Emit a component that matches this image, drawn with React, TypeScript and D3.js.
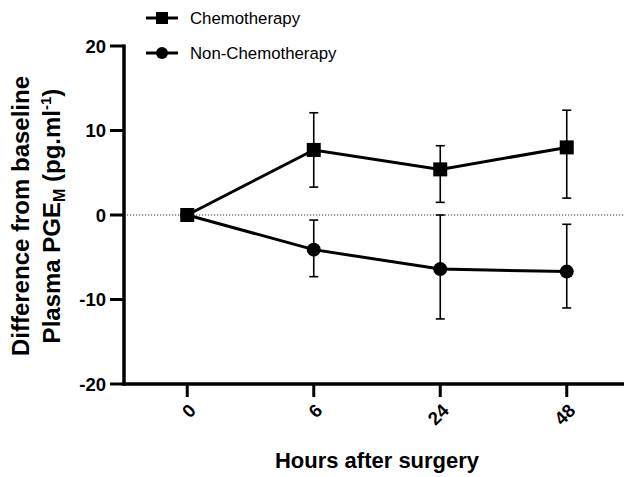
import React from 'react';
import * as d3 from 'd3';

const hours = ['0', '6', '24', '48'];
const chemoMean = [0, 7.7, 5.4, 8.0];
const chemoLow = [0, 3.3, 1.5, 2.0];
const chemoHigh = [0, 12.1, 8.2, 12.4];
const nonMean = [0, -4.1, -6.4, -6.7];
const nonLow = [0, -7.3, -12.3, -11.0];
const nonHigh = [0, -0.6, 0.0, -1.1];
const yTicks = [-20, -10, 0, 10, 20];

const W = 624, H = 477;
const font = 'Arial, "Liberation Sans", sans-serif';

export default function App() {
  const x = d3.scalePoint<string>().domain(hours).range([124, 630]).padding(0.5);
  const y = d3.scaleLinear().domain([-20, 20]).range([384, 46]);

  const line = d3.line<number>()
    .x((d, i) => x(hours[i]) as number)
    .y(d => y(d));

  const errorBars = (low: number[], high: number[], key: string) =>
    hours.map((h, i) => {
      if (low[i] === high[i]) return null;
      const cx = x(h) as number;
      return (
        <g key={key + h} stroke="#000" strokeWidth={1.6}>
          <line x1={cx} x2={cx} y1={y(low[i])} y2={y(high[i])} />
          <line x1={cx - 4.5} x2={cx + 4.5} y1={y(low[i])} y2={y(low[i])} />
          <line x1={cx - 4.5} x2={cx + 4.5} y1={y(high[i])} y2={y(high[i])} />
        </g>
      );
    });

  return (
    <svg width={W} height={H} style={{ position: 'absolute', left: 0, top: 0, background: '#fff' }}
         fontFamily={font}>
      {/* zero reference */}
      <line x1={124} x2={W} y1={y(0)} y2={y(0)} stroke="#333" strokeWidth={1} strokeDasharray="1.2,1.8" />

      {/* y axis */}
      <line x1={124} x2={124} y1={y(20) - 1.5} y2={y(-20) + 1.5} stroke="#000" strokeWidth={3.5} />
      {yTicks.map(t => (
        <g key={t}>
          <line x1={110} x2={124} y1={y(t)} y2={y(t)} stroke="#000" strokeWidth={3} />
          <text x={106} y={y(t)} dy="0.36em" textAnchor="end" fontSize={18.5} fontWeight="bold">{t}</text>
        </g>
      ))}

      {/* x axis */}
      <line x1={122.3} x2={W} y1={y(-20)} y2={y(-20)} stroke="#000" strokeWidth={3.5} />
      {hours.map(h => (
        <g key={h}>
          <line x1={x(h)} x2={x(h)} y1={y(-20)} y2={y(-20) + 13} stroke="#000" strokeWidth={3} />
          <text transform={`translate(${(x(h) as number) + 5},${y(-20) + 23}) rotate(-45)`}
                textAnchor="end" dy="0.36em" fontSize={18.5} fontWeight="bold">{h}</text>
        </g>
      ))}

      {/* error bars */}
      {errorBars(nonLow, nonHigh, 'n')}
      {errorBars(chemoLow, chemoHigh, 'c')}

      {/* lines */}
      <path d={line(nonMean) || ''} fill="none" stroke="#000" strokeWidth={3} />
      <path d={line(chemoMean) || ''} fill="none" stroke="#000" strokeWidth={3} />

      {/* markers */}
      {nonMean.map((v, i) => (
        <circle key={'nc' + i} cx={x(hours[i])} cy={y(v)} r={7} fill="#000" />
      ))}
      {chemoMean.map((v, i) => (
        <rect key={'cr' + i} x={(x(hours[i]) as number) - 7} y={y(v) - 7} width={14} height={14} fill="#000" />
      ))}

      {/* legend */}
      <line x1={146} x2={178} y1={18} y2={18} stroke="#000" strokeWidth={3} />
      <rect x={156} y={12} width={12} height={12} fill="#000" />
      <text x={190} y={18} dy="0.36em" fontSize={16.8}>Chemotherapy</text>
      <line x1={146} x2={178} y1={53} y2={53} stroke="#000" strokeWidth={3} />
      <circle cx={162} cy={53} r={6} fill="#000" />
      <text x={190} y={53} dy="0.36em" fontSize={16.8}>Non-Chemotherapy</text>

      {/* axis titles */}
      <g transform="translate(29,216) rotate(-90)" fontWeight="bold" fontSize={24} textAnchor="middle">
        <text x={0} y={0}>Difference from baseline</text>
        <text x={0} y={31}>
          Plasma PGE<tspan fontSize={16} dy={5}>M</tspan>
          <tspan dy={-5}> (pg.ml</tspan>
          <tspan fontSize={15} dy={-9}>-1</tspan>
          <tspan dy={9}>)</tspan>
        </text>
      </g>
      <text x={377} y={468} textAnchor="middle" fontSize={22} fontWeight="bold">Hours after surgery</text>
    </svg>
  );
}
